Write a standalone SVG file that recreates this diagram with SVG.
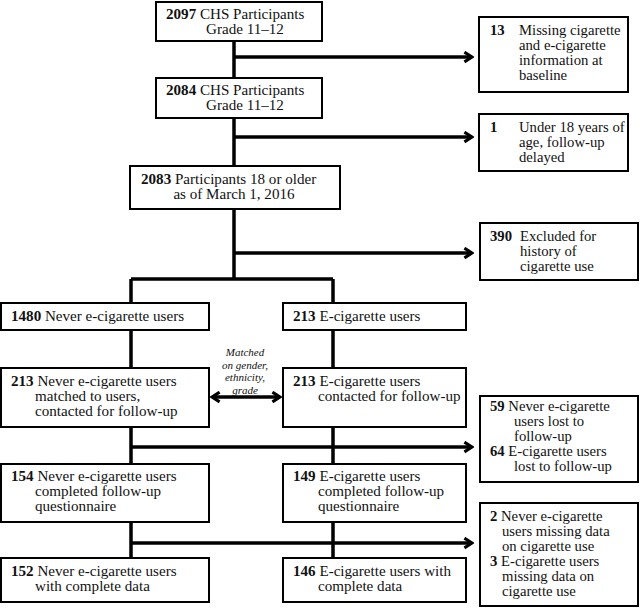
<svg xmlns="http://www.w3.org/2000/svg" width="640" height="608" viewBox="0 0 640 608">
<style>
.box{fill:#fff;stroke:#000;stroke-width:2}
.ln{fill:none;stroke:#000;stroke-width:3.5}
text{font-family:"Liberation Serif","Times New Roman",serif;font-size:15.1px;fill:#111}
.r text{font-size:14.7px}
.b{font-weight:bold}
.it{font-style:italic;font-size:11px}
</style>
<defs>
<marker id="ah" viewBox="0 0 12 12" refX="10" refY="6" markerWidth="13" markerHeight="13" markerUnits="userSpaceOnUse" orient="auto-start-reverse">
<path d="M3,1.5 L10,6 L3,10.5" fill="none" stroke="#000" stroke-width="2.8" stroke-linejoin="miter"/>
</marker>
</defs>
<g id="connectors">
<path class="ln" d="M234,41 V78 M234,118 V166 M234,209 V279 M131,279 H333 M131,279 V303 M333,279 V303 M131,330 V368 M333,330 V368 M131,427 V464 M333,427 V464 M131,522 V558 M333,522 V558"/>
<path class="ln" d="M234,57 H472" marker-end="url(#ah)"/>
<path class="ln" d="M234,137 H472" marker-end="url(#ah)"/>
<path class="ln" d="M234,253 H472" marker-end="url(#ah)"/>
<path class="ln" d="M131,447 H472" marker-end="url(#ah)"/>
<path class="ln" d="M131,543 H472" marker-end="url(#ah)"/>
<path class="ln" d="M212,397 H280" marker-start="url(#ah)" marker-end="url(#ah)"/>
<text class="it" x="245" y="356" text-anchor="middle">Matched</text>
<text class="it" x="245" y="368.5" text-anchor="middle">on gender,</text>
<text class="it" x="245" y="381" text-anchor="middle">ethnicity,</text>
<text class="it" x="245" y="393.5" text-anchor="middle">grade</text>
</g>
<g id="n2097">
<rect class="box" x="156" y="2" width="166" height="39"/>
<text x="166" y="19"><tspan class="b">2097</tspan>  CHS Participants</text>
<text x="245" y="34" text-anchor="middle">Grade 11–12</text>
</g>
<g id="n13" class="r">
<rect class="box" x="479" y="17" width="149" height="75"/>
<text class="b" x="490" y="35">13</text>
<text x="519" y="35">Missing cigarette</text>
<text x="519" y="50">and e-cigarette</text>
<text x="519" y="65">information at</text>
<text x="519" y="80">baseline</text>
</g>
<g id="n2084">
<rect class="box" x="156" y="78" width="166" height="40"/>
<text x="166" y="95"><tspan class="b">2084</tspan> CHS Participants</text>
<text x="245" y="110" text-anchor="middle">Grade 11–12</text>
</g>
<g id="n1" class="r">
<rect class="box" x="479" y="114" width="149" height="57"/>
<text class="b" x="490" y="132">1</text>
<text x="519" y="132">Under 18 years of</text>
<text x="519" y="147">age, follow-up</text>
<text x="519" y="162">delayed</text>
</g>
<g id="n2083">
<rect class="box" x="130" y="166" width="210" height="43"/>
<text x="141" y="184"><tspan class="b">2083</tspan> Participants 18 or older</text>
<text x="234" y="199" text-anchor="middle">as of March 1, 2016</text>
</g>
<g id="n390" class="r">
<rect class="box" x="480" y="223" width="158" height="57"/>
<text class="b" x="490" y="241">390</text>
<text x="520" y="241">Excluded for</text>
<text x="520" y="256">history of</text>
<text x="520" y="271">cigarette use</text>
</g>
<g id="n1480">
<rect class="box" x="1" y="303" width="208" height="27"/>
<text x="11" y="321"><tspan class="b">1480</tspan> Never e-cigarette users</text>
</g>
<g id="n213e">
<rect class="box" x="283" y="303" width="183" height="27"/>
<text x="293" y="321"><tspan class="b">213</tspan> E-cigarette users</text>
</g>
<g id="n213n">
<rect class="box" x="1" y="368" width="208" height="59"/>
<text x="11" y="386"><tspan class="b">213</tspan> Never e-cigarette users</text>
<text x="35" y="401">matched to users,</text>
<text x="35" y="416">contacted for follow-up</text>
</g>
<g id="n213c">
<rect class="box" x="283" y="368" width="183" height="59"/>
<text x="293" y="386"><tspan class="b">213</tspan> E-cigarette users</text>
<text x="318" y="401">contacted for follow-up</text>
</g>
<g id="nlost" class="r">
<rect class="box" x="480" y="396" width="158" height="86"/>
<text x="490" y="411"><tspan class="b">59</tspan> Never e-cigarette</text>
<text x="514" y="426">users lost to</text>
<text x="514" y="441">follow-up</text>
<text x="490" y="456"><tspan class="b">64</tspan> E-cigarette users</text>
<text x="514" y="471">lost to follow-up</text>
</g>
<g id="n154">
<rect class="box" x="1" y="464" width="208" height="58"/>
<text x="11" y="481"><tspan class="b">154</tspan> Never e-cigarette users</text>
<text x="35" y="496">completed follow-up</text>
<text x="35" y="511">questionnaire</text>
</g>
<g id="n149">
<rect class="box" x="283" y="464" width="183" height="58"/>
<text x="293" y="481"><tspan class="b">149</tspan> E-cigarette users</text>
<text x="318" y="496">completed follow-up</text>
<text x="318" y="511">questionnaire</text>
</g>
<g id="nmiss" class="r">
<rect class="box" x="480" y="503" width="158" height="103"/>
<text x="490" y="521"><tspan class="b">2</tspan> Never e-cigarette</text>
<text x="502" y="536">users missing data</text>
<text x="502" y="551">on cigarette use</text>
<text x="490" y="566"><tspan class="b">3</tspan> E-cigarette users</text>
<text x="502" y="581">missing data on</text>
<text x="502" y="596">cigarette use</text>
</g>
<g id="n152">
<rect class="box" x="1" y="558" width="208" height="44"/>
<text x="11" y="576"><tspan class="b">152</tspan> Never e-cigarette users</text>
<text x="35" y="591">with complete data</text>
</g>
<g id="n146">
<rect class="box" x="283" y="558" width="183" height="44"/>
<text x="293" y="576"><tspan class="b">146</tspan> E-cigarette users with</text>
<text x="318" y="591">complete data</text>
</g>
</svg>
